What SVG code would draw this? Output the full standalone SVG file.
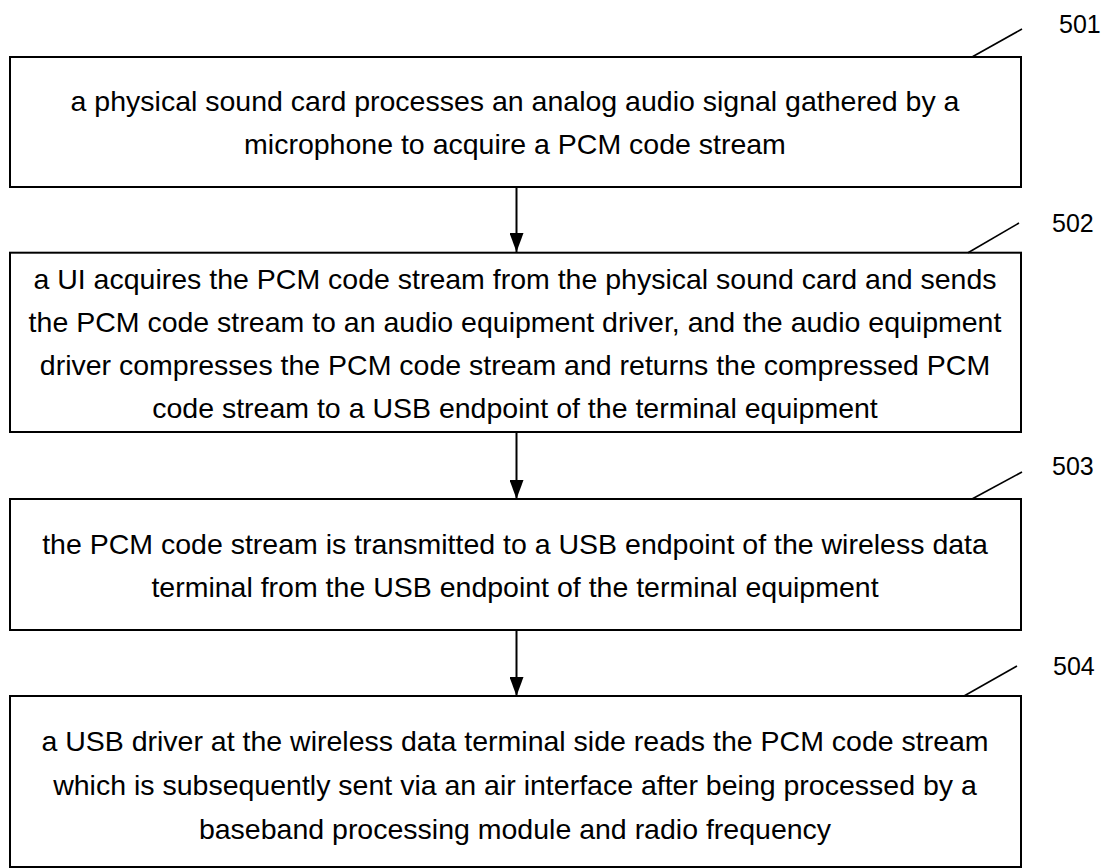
<svg xmlns="http://www.w3.org/2000/svg" width="1107" height="868" viewBox="0 0 1107 868">
<defs>
<marker id="ah" markerWidth="19" markerHeight="14" refX="19" refY="7" orient="auto" markerUnits="userSpaceOnUse" viewBox="0 0 19 14">
<path d="M0,0 L19,7 L0,14 Z" fill="#000"/>
</marker>
<style>
.box{fill:#fff;stroke:#000;stroke-width:2}
.t{font-family:"Liberation Sans",Arial,sans-serif;font-size:28.5px;fill:#000;text-anchor:middle}
.lbl{font-family:"Liberation Sans",Arial,sans-serif;font-size:25px;fill:#000}
.lead{stroke:#000;stroke-width:1.6;fill:none}
.conn{stroke:#000;stroke-width:2;fill:none}
</style>
</defs>
<rect width="1107" height="868" fill="#fff"/>
<g id="connectors">
<line class="conn" x1="516.5" y1="188" x2="516.5" y2="252" marker-end="url(#ah)"/>
<line class="conn" x1="516.5" y1="433" x2="516.5" y2="499" marker-end="url(#ah)"/>
<line class="conn" x1="516.5" y1="631" x2="516.5" y2="696" marker-end="url(#ah)"/>
</g>
<g id="n501">
<rect class="box" x="10" y="57" width="1011" height="130"/>
<text class="t" x="515" y="111">a physical sound card processes an analog audio signal gathered by a</text>
<text class="t" x="515" y="154">microphone to acquire a PCM code stream</text>
<line class="lead" x1="972" y1="57" x2="1022" y2="29"/>
<text class="lbl" x="1059" y="33">501</text>
</g>
<g id="n502">
<rect class="box" x="10" y="252.7" width="1011" height="179.3"/>
<text class="t" x="515" y="289">a UI acquires the PCM code stream from the physical sound card and sends</text>
<text class="t" x="515" y="332">the PCM code stream to an audio equipment driver, and the audio equipment</text>
<text class="t" x="515" y="375">driver compresses the PCM code stream and returns the compressed PCM</text>
<text class="t" x="515" y="418">code stream to a USB endpoint of the terminal equipment</text>
<line class="lead" x1="968" y1="252.7" x2="1019" y2="223"/>
<text class="lbl" x="1052" y="232">502</text>
</g>
<g id="n503">
<rect class="box" x="10" y="499" width="1011" height="131"/>
<text class="t" x="515" y="554">the PCM code stream is transmitted to a USB endpoint of the wireless data</text>
<text class="t" x="515" y="597">terminal from the USB endpoint of the terminal equipment</text>
<line class="lead" x1="972" y1="499" x2="1022" y2="472"/>
<text class="lbl" x="1052" y="475">503</text>
</g>
<g id="n504">
<rect class="box" x="10" y="696" width="1011" height="171"/>
<text class="t" x="515" y="751">a USB driver at the wireless data terminal side reads the PCM code stream</text>
<text class="t" x="515" y="795">which is subsequently sent via an air interface after being processed by a</text>
<text class="t" x="515" y="839">baseband processing module and radio frequency</text>
<line class="lead" x1="964" y1="696" x2="1017" y2="666"/>
<text class="lbl" x="1053" y="675">504</text>
</g>
</svg>
